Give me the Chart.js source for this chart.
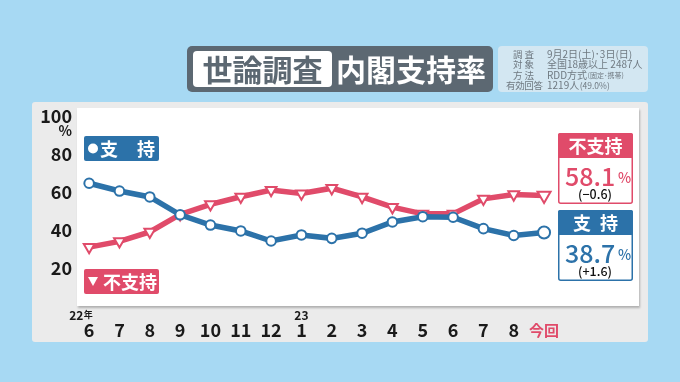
<!DOCTYPE html>
<html><head><meta charset="utf-8">
<script src="https://cdn.jsdelivr.net/npm/chart.js@4"></script>
<style>html,body{margin:0;padding:0;background:#a7d9f3;}#wrap{width:680px;height:382px;position:relative;}canvas{display:block;}</style>
</head><body><div id="wrap"><canvas id="c" width="680" height="382"></canvas></div>
<script>
// ---- data ----
const months = ['6','7','8','9','10','11','12','1','2','3','4','5','6','7','8','今回'];
const support = [64.6, 60.5, 57.4, 48.0, 42.6, 39.5, 34.2, 37.4, 35.6, 38.3, 44.2, 47.0, 46.7, 40.7, 37.1, 38.7];
const nonSupport = [31.0, 34.0, 39.0, 48.2, 53.5, 57.5, 61.0, 59.2, 62.0, 57.4, 52.0, 48.5, 48.5, 56.4, 58.7, 58.1];
const yTicks = [20, 40, 60, 80, 100];
const yearMarks = [{index: 0, year: '22', unit: '年'}, {index: 7, year: '23', unit: ''}];
const seriesNames = ['支持', '不支持'];
const titleLeft = '世論調査';
const titleRight = '内閣支持率';
const surveyLabels = ['調査', '対象', '方法', '有効回答'];
const surveyValues = ['9月2日(土)･3日(日)', '全国18歳以上 2487人', 'RDD方式', '1219人'];
const surveyNotes = ['', '', '(固定･携帯)', '(49.0%)'];

const F = '"Noto Sans CJK JP","Noto Sans",sans-serif';
const BLUE = '#2c72a9', RED = '#e04b6a', GREYT = '#5c6872';

function rr(ctx, x, y, w, h, r) { ctx.beginPath(); ctx.roundRect(x, y, w, h, r); }
function fmtChange(v) { const s = Math.abs(v).toFixed(1); return '(' + (v < 0 ? '−' : '+') + s + ')'; }

const last = months.length - 1;

const deco = {
  id: 'deco',
  beforeDraw(chart) {
    const ctx = chart.ctx, a = chart.chartArea;
    ctx.save();
    ctx.fillStyle = '#ebebeb';
    rr(ctx, 32, 102, 616, 240, 3); ctx.fill();
    ctx.save();
    ctx.shadowColor = 'rgba(0,0,0,0.25)'; ctx.shadowOffsetX = 1; ctx.shadowOffsetY = 1.5; ctx.shadowBlur = 2;
    ctx.fillStyle = '#fff'; ctx.fillRect(a.left, a.top, a.right - a.left, a.bottom - a.top);
    ctx.restore();
    // title
    ctx.fillStyle = GREYT; rr(ctx, 187, 46, 306, 46, 5); ctx.fill();
    ctx.fillStyle = '#fff'; rr(ctx, 193, 51, 139, 36, 4); ctx.fill();
    ctx.textAlign = 'center'; ctx.textBaseline = 'middle';
    ctx.font = 'bold 30px ' + F;
    ctx.fillStyle = GREYT; ctx.fillText(titleLeft, 262.5, 70);
    ctx.fillStyle = '#fff'; ctx.fillText(titleRight, 411, 70);
    // info box
    ctx.fillStyle = '#d3e7f2'; rr(ctx, 498, 46, 150, 46, 4); ctx.fill();
    ctx.fillStyle = '#6f7981';
    const ys = [54, 64.5, 75, 85.5];
    for (let i = 0; i < surveyLabels.length; i++) {
      const lab = surveyLabels[i];
      ctx.font = '9.5px ' + F; ctx.textAlign = 'center';
      const chars = [...lab];
      const x0 = chars.length >= 4 ? 506 : 513, x1 = chars.length >= 4 ? 543 : 534;
      const cw = 9.5;
      for (let j = 0; j < chars.length; j++) {
        const cx = chars.length === 1 ? (x0 + x1) / 2 : x0 + cw / 2 + j * ((x1 - x0 - cw) / (chars.length - 1));
        ctx.fillText(chars[j], cx, ys[i]);
      }
      ctx.textAlign = 'left';
      ctx.font = '10px ' + F;
      ctx.fillText(surveyValues[i], 547, ys[i]);
      if (surveyNotes[i]) {
        const w = ctx.measureText(surveyValues[i]).width;
        ctx.font = (i === 2 ? '7px ' : '8.5px ') + F;
        ctx.fillText(surveyNotes[i], 547 + w + 0.5, ys[i] + 0.5);
      }
    }
    ctx.restore();
  },
  afterDraw(chart) {
    const ctx = chart.ctx, xs = chart.scales.x, ysc = chart.scales.y;
    ctx.save();
    // % under 100
    ctx.fillStyle = '#1a1a1a'; ctx.font = 'bold 14px ' + F; ctx.textAlign = 'right'; ctx.textBaseline = 'middle';
    ctx.fillText('%', 72, ysc.getPixelForValue(yTicks[yTicks.length - 1]) + 15);
    // year marks
    ctx.textBaseline = 'middle';
    yearMarks.forEach(m => {
      const px = xs.getPixelForValue(m.index);
      ctx.font = 'bold 12px ' + F;
      const w1 = ctx.measureText(m.year).width;
      let sx = m.unit ? px - 20 : px - w1 / 2;
      ctx.textAlign = 'left';
      ctx.fillText(m.year, sx, 315);
      if (m.unit) { ctx.font = 'bold 9px ' + F; ctx.fillText(m.unit, sx + w1 + 0.5, 315); }
    });
    // legend boxes
    ctx.fillStyle = BLUE; rr(ctx, 84, 136, 75, 25, 2); ctx.fill();
    ctx.fillStyle = RED; rr(ctx, 84, 269, 75, 25, 2); ctx.fill();
    ctx.fillStyle = '#fff';
    ctx.beginPath(); ctx.arc(93, 148.5, 5, 0, Math.PI * 2); ctx.fill();
    ctx.beginPath(); ctx.moveTo(88, 277); ctx.lineTo(98, 277); ctx.lineTo(93, 286); ctx.closePath(); ctx.fill();
    ctx.font = 'bold 18px ' + F; ctx.textAlign = 'left'; ctx.textBaseline = 'middle';
    const sn = [...seriesNames[0]];
    ctx.fillText(sn[0], 100, 149); ctx.fillText(sn[1], 137, 149);
    ctx.fillText(seriesNames[1], 103, 282);
    // callouts
    const boxes = [
      {name: seriesNames[1], color: RED, top: 133, val: nonSupport[last], chg: nonSupport[last] - nonSupport[last - 1], spaced: false},
      {name: seriesNames[0], color: BLUE, top: 210, val: support[last], chg: support[last] - support[last - 1], spaced: true}
    ];
    boxes.forEach(b => {
      const x = 558, w = 75, h = 71;
      ctx.fillStyle = '#fff'; ctx.fillRect(x, b.top, w, h);
      ctx.strokeStyle = b.color; ctx.lineWidth = 1.5;
      rr(ctx, x + 0.75, b.top + 0.75, w - 1.5, h - 1.5, 2); ctx.stroke();
      ctx.fillStyle = b.color; rr(ctx, x, b.top, w, 25, [2, 2, 0, 0]); ctx.fill();
      ctx.fillStyle = '#fff'; ctx.font = 'bold 18px ' + F; ctx.textBaseline = 'middle';
      if (b.spaced) {
        const c = [...b.name]; ctx.textAlign = 'center';
        ctx.fillText(c[0], 582, b.top + 13.5); ctx.fillText(c[1], 609, b.top + 13.5);
      } else { ctx.textAlign = 'center'; ctx.fillText(b.name, 595.5, b.top + 13.5); }
      ctx.fillStyle = b.color; ctx.textAlign = 'left';
      ctx.font = '500 25px ' + F;
      ctx.fillText(b.val.toFixed(1), 565, b.top + 43);
      ctx.font = '500 14px ' + F;
      ctx.fillText('%', 618, b.top + 45);
      ctx.fillStyle = '#111'; ctx.font = '500 12.5px ' + F; ctx.textAlign = 'center';
      ctx.fillText(fmtChange(b.chg), 595, b.top + 61);
    });
    ctx.restore();
  }
};

const pts = (arr) => arr.map((v, i) => ({x: i, y: v}));

new Chart(document.getElementById('c'), {
  type: 'line',
  data: {
    datasets: [
      {
        label: seriesNames[0], data: pts(support), borderColor: BLUE, borderWidth: 5.5,
        pointStyle: 'circle', pointBackgroundColor: '#fff', pointBorderColor: BLUE, pointBorderWidth: 2,
        pointRadius: ctx => ctx.dataIndex === last ? 6 : 4.8, tension: 0, clip: false
      },
      {
        label: seriesNames[1], data: pts(nonSupport), borderColor: RED, borderWidth: 5.5,
        pointStyle: 'triangle', pointRotation: 180, pointBackgroundColor: '#fff', pointBorderColor: RED, pointBorderWidth: 2,
        pointRadius: ctx => ctx.dataIndex === last ? 7.5 : 6.2, tension: 0, clip: false
      }
    ]
  },
  options: {
    responsive: false, animation: false, devicePixelRatio: 1,
    layout: {padding: {left: 32, top: 108, right: 41, bottom: 0}},
    plugins: {legend: {display: false}, tooltip: {enabled: false}},
    scales: {
      x: {
        type: 'linear', min: -0.4, max: 18.13,
        afterBuildTicks: s => { s.ticks = months.map((m, i) => ({value: i})); },
        afterFit: s => { s.height = 76; },
        grid: {display: false, drawTicks: false}, border: {display: false},
        ticks: {
          autoSkip: false, maxRotation: 0, padding: 13,
          callback: v => months[v],
          color: c => c.index === last ? RED : '#1a1a1a',
          font: c => c.index === last ? {family: F, size: 15, weight: 'bold', lineHeight: '22px'} : {family: F, size: 18, weight: 'bold', lineHeight: '22px'}
        }
      },
      y: {
        min: 0, max: 104.2,
        afterBuildTicks: s => { s.ticks = yTicks.map(v => ({value: v})); },
        afterFit: s => { s.width = 45; },
        grid: {display: false, drawTicks: false}, border: {display: false},
        ticks: {padding: 5, color: '#1a1a1a', font: {family: F, size: 18, weight: 'bold'}}
      }
    }
  },
  plugins: [deco]
});
</script>
</body></html>
